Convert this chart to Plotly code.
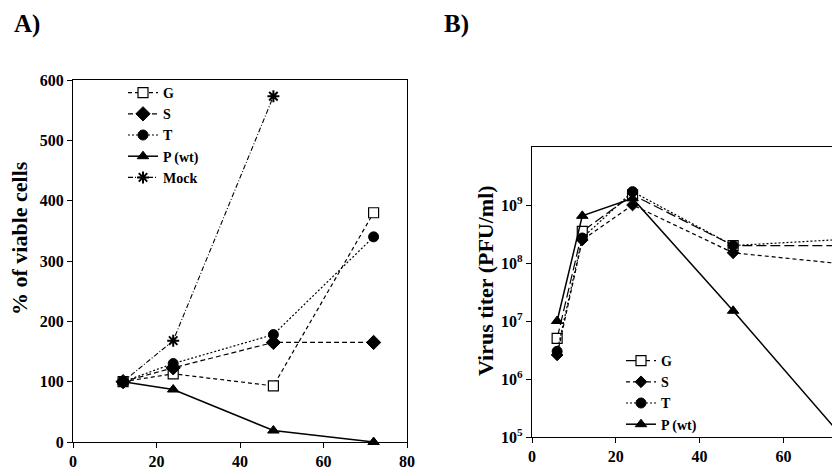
import plotly.graph_objects as go

# ---- Panel A data ----
hours_a = [12, 24, 48, 72]
viable_G = [100, 113, 93, 380]
viable_S = [100, 123, 165, 165]
viable_T = [100, 130, 178, 340]
viable_P = [100, 87, 19, 0]
hours_mock = [12, 24, 48]
viable_Mock = [100, 168, 573]

# ---- Panel B data ----
hours_b = [6, 12, 24, 48, 72]
titer_G = [5.0e6, 3.5e8, 1.5e9, 2.0e8, 2.0e8]
titer_S = [2.6e6, 2.5e8, 1.0e9, 1.5e8, 1.0e8]
titer_T = [3.0e6, 2.7e8, 1.7e9, 2.0e8, 2.5e8]
titer_P = [1.0e7, 6.5e8, 1.3e9, 1.5e7, 1.5e5]

log_ticks = [1e5, 1e6, 1e7, 1e8, 1e9]
log_ticktext = ["10<sup>5</sup>", "10<sup>6</sup>", "10<sup>7</sup>", "10<sup>8</sup>", "10<sup>9</sup>"]

FONT = "Liberation Serif"
W, H = 832, 467

fig = go.Figure()

def mk(sym, size, fill="black", lw=1):
    return dict(symbol=sym, size=size, color=fill, line=dict(color="black", width=lw))

# Panel A traces
fig.add_trace(go.Scatter(x=hours_a, y=viable_G, name="G", mode="lines+markers",
                         line=dict(color="black", width=1.2, dash="4px,3px"),
                         marker=mk("square", 10, "white", 1.2), cliponaxis=False,
                         xaxis="x", yaxis="y", legend="legend"))
fig.add_trace(go.Scatter(x=hours_a, y=viable_S, name="S", mode="lines+markers",
                         line=dict(color="black", width=1.2, dash="5px,3px"),
                         marker=mk("diamond", 11), cliponaxis=False,
                         xaxis="x", yaxis="y", legend="legend"))
fig.add_trace(go.Scatter(x=hours_a, y=viable_T, name="T", mode="lines+markers",
                         line=dict(color="black", width=1.2, dash="2px,2px"),
                         marker=mk("circle", 10), cliponaxis=False,
                         xaxis="x", yaxis="y", legend="legend"))
fig.add_trace(go.Scatter(x=hours_a, y=viable_P, name="P (wt)", mode="lines+markers",
                         line=dict(color="black", width=1.5),
                         marker=mk("triangle-up", 10), cliponaxis=False,
                         xaxis="x", yaxis="y", legend="legend"))
fig.add_trace(go.Scatter(x=hours_mock, y=viable_Mock, name="Mock", mode="lines+markers",
                         line=dict(color="black", width=1.1, dash="5px,2px,1px,2px"),
                         marker=dict(symbol="asterisk-open", size=10, line=dict(color="black", width=2)),
                         cliponaxis=False, xaxis="x", yaxis="y", legend="legend"))

# Panel B traces
fig.add_trace(go.Scatter(x=hours_b, y=titer_G, name="G", mode="lines+markers",
                         line=dict(color="black", width=1.2, dash="10px,4px"),
                         marker=mk("square", 10, "white", 1.2), cliponaxis=False,
                         xaxis="x2", yaxis="y2", legend="legend2"))
fig.add_trace(go.Scatter(x=hours_b, y=titer_S, name="S", mode="lines+markers",
                         line=dict(color="black", width=1.2, dash="4px,3px"),
                         marker=mk("diamond", 9), cliponaxis=False,
                         xaxis="x2", yaxis="y2", legend="legend2"))
fig.add_trace(go.Scatter(x=hours_b, y=titer_T, name="T", mode="lines+markers",
                         line=dict(color="black", width=1.2, dash="2px,2px"),
                         marker=mk("circle", 10), cliponaxis=False,
                         xaxis="x2", yaxis="y2", legend="legend2"))
fig.add_trace(go.Scatter(x=hours_b, y=titer_P, name="P (wt)", mode="lines+markers",
                         line=dict(color="black", width=1.5),
                         marker=mk("triangle-up", 10), cliponaxis=False,
                         xaxis="x2", yaxis="y2", legend="legend2"))

tickfont = dict(family=FONT, size=16, color="black", weight="bold")
titlefont = dict(family=FONT, size=22, color="black", weight="bold")
legfont = dict(family=FONT, size=14, color="black", weight="bold")

def px_x(p):
    return p / W

def px_y(p):
    return (H - p) / H

common = dict(showline=True, linecolor="black", linewidth=1.2, ticks="outside", ticklen=5,
              tickcolor="black", showgrid=False, zeroline=False, tickfont=tickfont,
              automargin=False)

fig.update_layout(
    width=W, height=H,
    margin=dict(l=0, r=0, t=0, b=0, pad=0),
    paper_bgcolor="white", plot_bgcolor="white",
    font=dict(family=FONT, size=14, color="black", weight="bold"),
    showlegend=True,
    xaxis=dict(domain=[px_x(73), px_x(407)], range=[0, 80], tickvals=[0, 20, 40, 60, 80],
               mirror=True, anchor="y", **common),
    yaxis=dict(domain=[px_y(442), px_y(80)], range=[0, 600], tickvals=[0, 100, 200, 300, 400, 500, 600],
               mirror=True, anchor="x", **common),
    xaxis2=dict(domain=[px_x(532), 1.0], range=[0, 71.6], tickvals=[0, 20, 40, 60],
                mirror=True, anchor="y2", **common),
    yaxis2=dict(domain=[px_y(437), px_y(147)], type="log", range=[5, 10],
                tickvals=log_ticks, ticktext=log_ticktext, mirror=False, anchor="x2", **common),
    legend=dict(x=px_x(123), y=px_y(77), xanchor="left", yanchor="top",
                bgcolor="rgba(0,0,0,0)", borderwidth=0, tracegroupgap=0, font=legfont),
    legend2=dict(x=px_x(621), y=px_y(345), xanchor="left", yanchor="top",
                 bgcolor="rgba(0,0,0,0)", borderwidth=0, tracegroupgap=0, font=legfont),
    annotations=[
        dict(text="A)", x=px_x(12), y=px_y(24), xref="paper", yref="paper",
             xanchor="left", yanchor="middle", showarrow=False,
             font=dict(family=FONT, size=25, color="black", weight="bold")),
        dict(text="B)", x=px_x(442), y=px_y(24), xref="paper", yref="paper",
             xanchor="left", yanchor="middle", showarrow=False,
             font=dict(family=FONT, size=25, color="black", weight="bold")),
        dict(text="% of viable cells", x=px_x(19), y=px_y(238), xref="paper", yref="paper",
             xanchor="center", yanchor="middle", textangle=-90, showarrow=False,
             font=titlefont),
        dict(text="Virus titer (PFU/ml)", x=px_x(485), y=px_y(281), xref="paper", yref="paper",
             xanchor="center", yanchor="middle", textangle=-90, showarrow=False,
             font=titlefont),
    ],
)

fig.write_html("out.html")
